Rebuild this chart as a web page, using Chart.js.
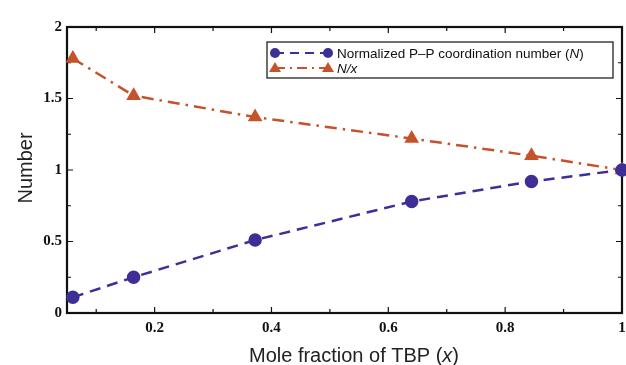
<!DOCTYPE html>
<html>
<head>
<meta charset="utf-8">
<script src="https://cdn.jsdelivr.net/npm/chart.js@4.4.1/dist/chart.umd.min.js"></script>
<style>
  html, body { margin: 0; padding: 0; background: #fff; }
  #wrap { width: 626px; height: 365px; position: relative; }
</style>
</head>
<body>
<div id="wrap"><canvas id="chart" width="626" height="365"></canvas></div>
<script>
// mole fraction of TBP (x) and the two series
const MOLE_FRACTION = [0.06, 0.164, 0.372, 0.640, 0.845, 1.0];
const COORD_NUMBER  = [0.11, 0.25, 0.51, 0.78, 0.92, 1.0];
const N_OVER_X      = [1.78, 1.52, 1.37, 1.22, 1.10, 1.0];

const X_TICKS  = [0.1, 0.2, 0.3, 0.4, 0.5, 0.6, 0.7, 0.8, 0.9, 1.0];
const X_LABELS = [0.2, 0.4, 0.6, 0.8, 1.0];
const Y_TICKS  = [0, 0.25, 0.5, 0.75, 1, 1.25, 1.5, 1.75, 2];
const Y_LABELS = [0, 0.5, 1, 1.5, 2];

const BLUE = '#3d2f96';
const RED  = '#c4532c';
const TICK_FONT = { family: 'Liberation Serif', size: 15, weight: 'bold' };

function isLabel(list, v) { return list.some(l => Math.abs(l - v) < 1e-6); }
function fmt(v) { return String(Math.round(v * 100) / 100); }

// frame, inward tick marks, axis titles and the boxed legend
const decorations = {
  id: 'decorations',
  beforeDatasetsDraw(chart) {
    const { ctx, chartArea: a, scales: { x, y } } = chart;
    ctx.save();
    ctx.strokeStyle = '#111';
    ctx.lineWidth = 1.2;
    X_TICKS.forEach(v => {
      const px = x.getPixelForValue(v);
      const len = isLabel(X_LABELS, v) ? 6 : 4;
      ctx.beginPath();
      ctx.moveTo(px, a.bottom); ctx.lineTo(px, a.bottom - len);
      ctx.moveTo(px, a.top); ctx.lineTo(px, a.top + len);
      ctx.stroke();
    });
    Y_TICKS.forEach(v => {
      const py = y.getPixelForValue(v);
      const len = isLabel(Y_LABELS, v) ? 6 : 4;
      ctx.beginPath();
      ctx.moveTo(a.left, py); ctx.lineTo(a.left + len, py);
      ctx.moveTo(a.right, py); ctx.lineTo(a.right - len, py);
      ctx.stroke();
    });
    ctx.lineWidth = 2.2;
    ctx.strokeRect(a.left, a.top, a.right - a.left, a.bottom - a.top);
    ctx.restore();
  },
  afterDraw(chart) {
    const { ctx } = chart;
    ctx.save();
    ctx.fillStyle = '#222';
    ctx.textBaseline = 'alphabetic';

    // x title with italic x
    const parts = [
      ['Mole fraction of TBP (', '20px "Liberation Sans"'],
      ['x', 'italic 20px "Liberation Sans"'],
      [')', '20px "Liberation Sans"']
    ];
    let total = 0;
    parts.forEach(p => { ctx.font = p[1]; total += ctx.measureText(p[0]).width; });
    let cx = 354 - total / 2;
    parts.forEach(p => { ctx.font = p[1]; ctx.fillText(p[0], cx, 362); cx += ctx.measureText(p[0]).width; });

    // y title
    ctx.save();
    ctx.translate(32, 168);
    ctx.rotate(-Math.PI / 2);
    ctx.textAlign = 'center';
    ctx.font = '20px "Liberation Sans"';
    ctx.fillText('Number', 0, 0);
    ctx.restore();

    // legend box
    const bx = 267, by = 42, bw = 346, bh = 36;
    ctx.fillStyle = '#fff';
    ctx.fillRect(bx, by, bw, bh);
    ctx.strokeStyle = '#222';
    ctx.lineWidth = 1.3;
    ctx.strokeRect(bx, by, bw, bh);

    const rows = [
      { y: by + 11, color: BLUE, dash: [9, 6], marker: 'circle',
        text: [['Normalized P\u2013P coordination number (', ''], ['N', 'italic '], [')', '']] },
      { y: by + 26, color: RED, dash: [10, 5, 2, 5], marker: 'triangle',
        text: [['N', 'italic '], ['/', 'italic '], ['x', 'italic ']] }
    ];
    rows.forEach(r => {
      ctx.strokeStyle = r.color;
      ctx.lineWidth = 2;
      ctx.setLineDash(r.dash);
      ctx.beginPath(); ctx.moveTo(275, r.y); ctx.lineTo(328, r.y); ctx.stroke();
      ctx.setLineDash([]);
      ctx.fillStyle = r.color;
      [275, 328].forEach(mx => {
        ctx.beginPath();
        if (r.marker === 'circle') ctx.arc(mx, r.y, 5, 0, Math.PI * 2);
        else { ctx.moveTo(mx, r.y - 6); ctx.lineTo(mx + 6, r.y + 4); ctx.lineTo(mx - 6, r.y + 4); ctx.closePath(); }
        ctx.fill();
      });
      ctx.fillStyle = '#111';
      let tx = 337;
      r.text.forEach(t => {
        ctx.font = t[1] + '13.5px "Liberation Sans"';
        ctx.fillText(t[0], tx, r.y + 5);
        tx += ctx.measureText(t[0]).width;
      });
    });
    ctx.restore();
  }
};

new Chart(document.getElementById('chart'), {
  type: 'line',
  data: {
    datasets: [
      {
        label: 'Normalized P\u2013P coordination number (N)',
        data: MOLE_FRACTION.map((v, i) => ({ x: v, y: COORD_NUMBER[i] })),
        borderColor: BLUE, backgroundColor: BLUE,
        borderWidth: 2.5, borderDash: [11, 7],
        pointStyle: 'circle', pointRadius: 5.5, pointHoverRadius: 5.5,
        tension: 0, clip: false
      },
      {
        label: 'N/x',
        data: MOLE_FRACTION.map((v, i) => ({ x: v, y: N_OVER_X[i] })),
        borderColor: RED, backgroundColor: RED,
        borderWidth: 2.5, borderDash: [12, 6, 2.5, 6],
        pointStyle: 'triangle', pointRadius: 6, pointHoverRadius: 6,
        tension: 0, clip: false
      }
    ]
  },
  options: {
    responsive: false,
    animation: false,
    events: [],
    layout: { autoPadding: false, padding: { left: 0, right: 4, top: 27, bottom: 0 } },
    plugins: { legend: { display: false }, tooltip: { enabled: false } },
    scales: {
      x: {
        type: 'linear', min: 0.05, max: 1,
        afterBuildTicks: s => { s.ticks = X_TICKS.map(v => ({ value: v })); },
        afterFit: s => { s.height = 52; s.paddingLeft = 0; s.paddingRight = 0; },
        grid: { display: false, drawTicks: false },
        border: { display: false },
        ticks: {
          autoSkip: false, maxRotation: 0, padding: 6, color: '#111', font: TICK_FONT,
          callback: v => isLabel(X_LABELS, v) ? fmt(v) : ''
        }
      },
      y: {
        min: 0, max: 2,
        afterBuildTicks: s => { s.ticks = Y_TICKS.map(v => ({ value: v })); },
        afterFit: s => { s.width = 67; s.paddingTop = 0; s.paddingBottom = 0; },
        grid: { display: false, drawTicks: false },
        border: { display: false },
        ticks: {
          autoSkip: false, padding: 5, color: '#111', font: TICK_FONT,
          callback: v => isLabel(Y_LABELS, v) ? fmt(v) : ''
        }
      }
    }
  },
  plugins: [decorations]
});
</script>
</body>
</html>
